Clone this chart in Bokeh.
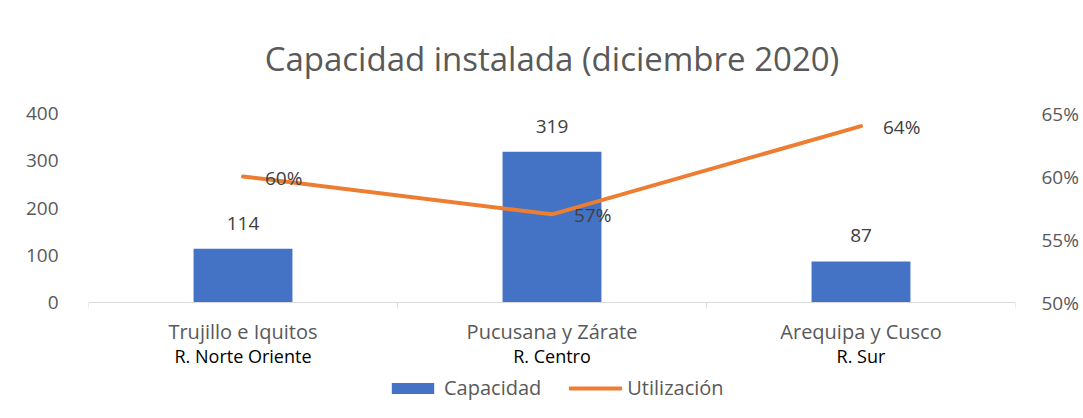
import math
from bokeh.plotting import figure
from bokeh.models import (Range1d, LinearAxis, FixedTicker, NumeralTickFormatter,
                          ColumnDataSource, Legend, LegendItem, Title, Span)
from bokeh.transform import dodge
from bokeh.core.properties import value
from bokeh.embed import file_html
from bokeh.resources import INLINE

categories = ["Trujillo e Iquitos", "Pucusana y Zárate", "Arequipa y Cusco"]
regions = ["R. Norte Oriente", "R. Centro", "R. Sur"]
capacidad = [114, 319, 87]
utilizacion = [0.60, 0.57, 0.64]
left_ticks = [0, 100, 200, 300, 400]
right_ticks = [0.50, 0.55, 0.60, 0.65]

FONT = "Open Sans"
GRAY = "#595959"
BLUE = "#4472C4"
ORANGE = "#ED7D31"
AXIS = "#D9D9D9"

# layout (pixels): value area is 189px tall; extra room under it holds the
# category labels and the legend inside the frame
PLOT_H = 189
UNDER_H = 106
FRAME_H = PLOT_H + UNDER_H
Y_MAX = left_ticks[-1]
Y_MIN = -UNDER_H * Y_MAX / PLOT_H
P_MIN, P_MAX = right_ticks[0], right_ticks[-1]
P_LOW = P_MIN - UNDER_H * (P_MAX - P_MIN) / PLOT_H

src = ColumnDataSource(dict(
    cat=categories, reg=regions, cap=capacidad, util=utilizacion,
    zero=[0] * len(categories),
    cap_lbl=[str(v) for v in capacidad],
    util_lbl=[f"{round(v*100)}%" for v in utilizacion],
))
last_src = ColumnDataSource(dict(cat=categories[-1:], zero=[0]))

p = figure(x_range=categories, y_range=Range1d(Y_MIN, Y_MAX), frame_width=927, frame_height=FRAME_H,
           output_backend="svg", toolbar_location=None, x_axis_location=None,
           min_border_left=88, min_border_right=62, min_border_top=113, min_border_bottom=4)
p.extra_y_ranges = {"pct": Range1d(P_LOW, P_MAX)}
p.outline_line_color = None
p.xgrid.grid_line_color = None
p.ygrid.grid_line_color = None

p.title = Title(text="Capacidad instalada (diciembre 2020)", align="center",
                text_font=FONT, text_font_size="33px", text_font_style="normal",
                text_color=GRAY, standoff=66)

la = p.yaxis[0]
la.ticker = FixedTicker(ticks=left_ticks)
la.axis_line_color = None
la.major_tick_line_color = None
la.minor_tick_line_color = None
la.major_label_text_font = FONT
la.major_label_text_font_size = "19px"
la.major_label_text_color = GRAY
la.major_label_standoff = 24

ra = LinearAxis(y_range_name="pct", ticker=FixedTicker(ticks=right_ticks),
                formatter=NumeralTickFormatter(format="0%"))
ra.axis_line_color = None
ra.major_tick_line_color = None
ra.minor_tick_line_color = None
ra.major_label_text_font = FONT
ra.major_label_text_font_size = "19px"
ra.major_label_text_color = GRAY
ra.major_label_standoff = 20
p.add_layout(ra, "right")

# category axis line at zero, with boundary tick marks
p.add_layout(Span(location=0, dimension="width", line_color=AXIS, line_width=1))
p.ray(x=dodge("cat", -0.5, range=p.x_range), y="zero", source=src, length=6,
      length_units="screen", angle=-math.pi / 2, line_color=AXIS, line_width=1)
p.ray(x=dodge("cat", 0.5, range=p.x_range), y="zero", source=last_src, length=6,
      length_units="screen", angle=-math.pi / 2, line_color=AXIS, line_width=1)

# category labels (two lines)
p.text(x="cat", y="zero", text="cat", source=src, text_align="center", text_baseline="middle",
       y_offset=29, text_font=value(FONT), text_font_size="20px", text_color=GRAY)
p.text(x="cat", y="zero", text="reg", source=src, text_align="center", text_baseline="middle",
       y_offset=53, text_font=value(FONT), text_font_size="18px", text_color="black")

bars = p.vbar(x="cat", top="cap", bottom=0, width=0.32, source=src, fill_color=BLUE, line_color=None)
line = p.line(x="cat", y="util", source=src, y_range_name="pct", line_color=ORANGE,
              line_width=4, line_cap="round", line_join="round")

p.text(x="cat", y="cap", text="cap_lbl", source=src, text_align="center", text_baseline="bottom",
       y_offset=-19, text_font=value(FONT), text_font_size="19px", text_color="#404040")
p.text(x="cat", y="util", text="util_lbl", source=src, y_range_name="pct", text_align="left",
       text_baseline="middle", x_offset=22, y_offset=1, text_font=value(FONT),
       text_font_size="19px", text_color="#404040")

legend = Legend(items=[LegendItem(label="Capacidad", renderers=[bars]),
                       LegendItem(label="Utilización", renderers=[line])],
                orientation="horizontal", location=(298, 7),
                label_text_font=FONT, label_text_font_size="20px", label_text_color=GRAY,
                glyph_width=53, glyph_height=14, spacing=28, padding=0, margin=0,
                border_line_color=None, background_fill_alpha=0, label_standoff=5)
p.add_layout(legend)

open("out.html", "w").write(file_html(p, INLINE))
